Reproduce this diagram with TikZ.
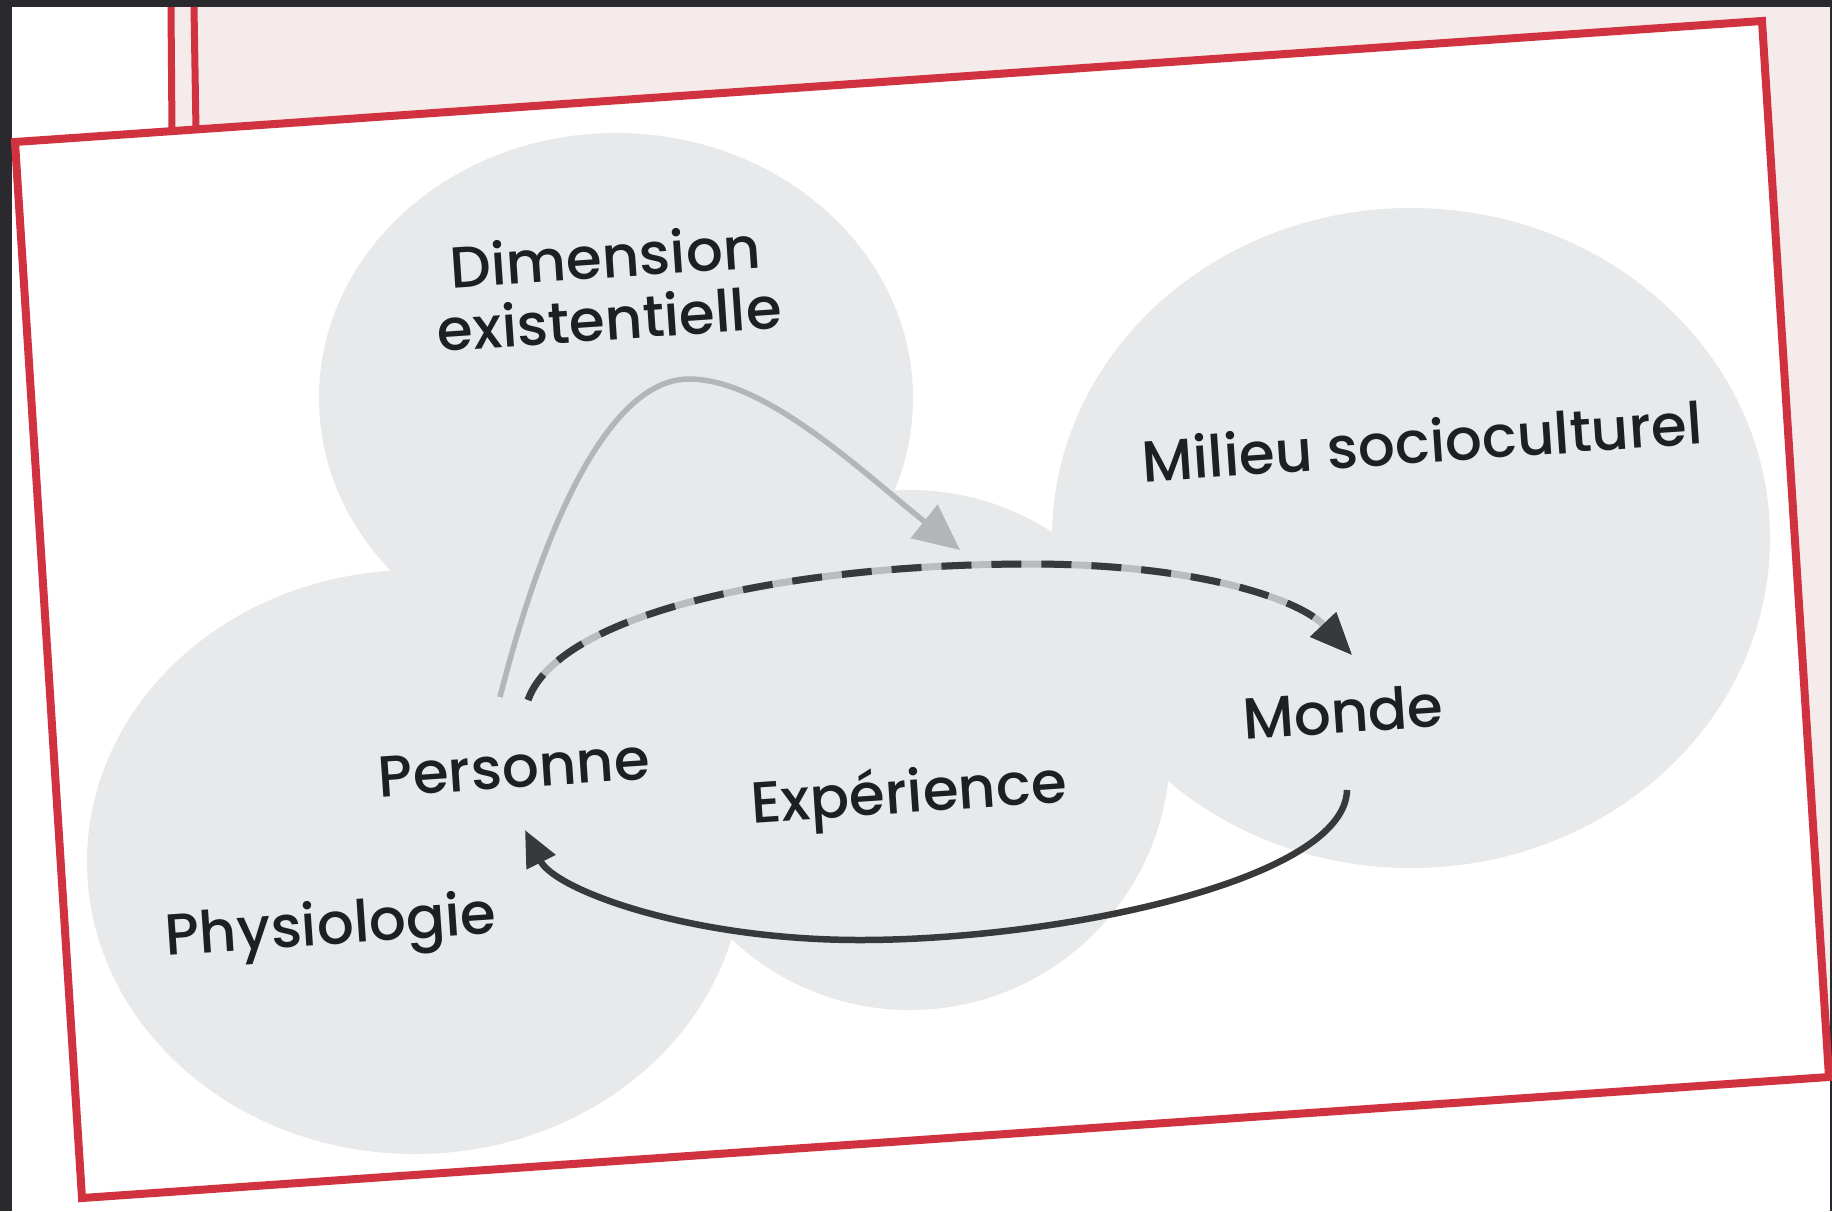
\documentclass[tikz,border=0pt]{standalone}
\usepackage{fontspec}
\IfFontExistsTF{Poppins Medium}{\setmainfont{Poppins Medium}}{\setmainfont{Poppins}}
\usetikzlibrary{arrows.meta}
\definecolor{frameRed}{HTML}{D0323F}
\definecolor{pageDark}{HTML}{2A2A2E}
\definecolor{pagePink}{HTML}{F6EBEB}
\definecolor{blobGrey}{HTML}{E7E9EB}
\definecolor{textDark}{HTML}{1E1F22}
\definecolor{arrowDark}{HTML}{38393B}
\definecolor{arrowGrey}{HTML}{B3B6B8}
\definecolor{dashGap}{HTML}{BABCBE}
\tikzset{
  lbl/.style={text=textDark, font=\fontsize{58}{62}\selectfont, rotate=3.9, inner sep=0pt, align=center},
  blob/.style={fill=blobGrey},
  redline/.style={draw=frameRed, line width=8pt, line join=miter},
  greyarrow/.style={draw=arrowGrey, line width=5.5pt, -{Triangle[length=46pt,width=42pt,color=arrowGrey]}},
  dashbase/.style={draw=dashGap, line width=7pt, -{Triangle[length=42pt,width=34pt,color=arrowDark]}},
  dashtop/.style={draw=arrowDark, line width=7pt, dash pattern=on 30pt off 20pt, -{Triangle[length=42pt,width=34pt,color=arrowDark]}},
  darkarrow/.style={draw=arrowDark, line width=6.5pt, -{Triangle[length=36pt,width=31pt,color=arrowDark]}}
}
\begin{document}
\begin{tikzpicture}[x=1pt,y=-1pt]
\useasboundingbox (0,0) rectangle (1832,1211);
% page background
\fill[white] (0,0) rectangle (1832,1211);
\fill[pagePink] (170,7) -- (1830,7) -- (1830,1079) -- (1762,21) -- (170,131) -- cycle;
% dark surroundings of the photo
\fill[pageDark] (0,0) rectangle (1832,7);
\fill[pageDark] (0,0) rectangle (12,1211);
\fill[pageDark] (1830,0) rectangle (1832,1211);
% double vertical lines at the top
\draw[draw=frameRed, line width=7pt] (171,7) -- (172,132);
\draw[draw=frameRed, line width=7pt] (194,7) -- (196,130);
% main frame
\coordinate (fTL) at (15,142);
\coordinate (fTR) at (1762,21);
\coordinate (fBR) at (1829,1077);
\coordinate (fBL) at (82,1198);
\fill[white] (fTL) -- (fTR) -- (fBR) -- (fBL) -- cycle;
% blobs
\fill[blob] (616,398) ellipse [x radius=297, y radius=265];
\fill[blob] (415,862) ellipse [x radius=328, y radius=292];
\fill[blob] (910,750) circle [radius=260];
\fill[blob] (1411,538) ellipse [x radius=359, y radius=330];
\fill[blob] (680,680) ellipse [x radius=180, y radius=140];
\draw[redline] (fTL) -- (fTR) -- (fBR) -- (fBL) -- cycle;
% labels
\node[lbl] (dim) at (607,287) {Dimension\\existentielle};
\node[lbl] (milieu) at (1422,441) {Milieu socioculturel};
\node[lbl] (monde) at (1343,712) {Monde};
\node[lbl] (personne) at (514,768) {Personne};
\node[lbl] (experience) at (909,797) {Expérience};
\node[lbl] (physio) at (331,930) {Physiologie};
% connector ends
\coordinate (gS) at (500,697);
\coordinate (gP) at (689,379);
\coordinate (gE) at (960,550);
\coordinate (dS) at (528,700);
\coordinate (dM) at (1030,564);
\coordinate (dE) at (1352,655);
\coordinate (rS) at (1347,790);
\coordinate (rM) at (860,940);
\coordinate (rE) at (525,830);
% grey arrow: Personne -> Expérience (through Dimension existentielle)
\draw[greyarrow] (gS) .. controls (540,540) and (605,379) .. (gP) .. controls (765,379) and (860,470) .. (gE);
% dashed arrow: Personne -> Monde
\draw[dashbase] (dS) .. controls (560,610) and (800,564) .. (dM) .. controls (1200,564) and (1300,600) .. (dE);
\draw[dashtop] (dS) .. controls (560,610) and (800,564) .. (dM) .. controls (1200,564) and (1300,600) .. (dE);
% solid return arrow: Monde -> Personne
\draw[darkarrow] (rS) .. controls (1345,880) and (1060,940) .. (rM) .. controls (690,940) and (555,890) .. (rE);
\end{tikzpicture}
\end{document}
